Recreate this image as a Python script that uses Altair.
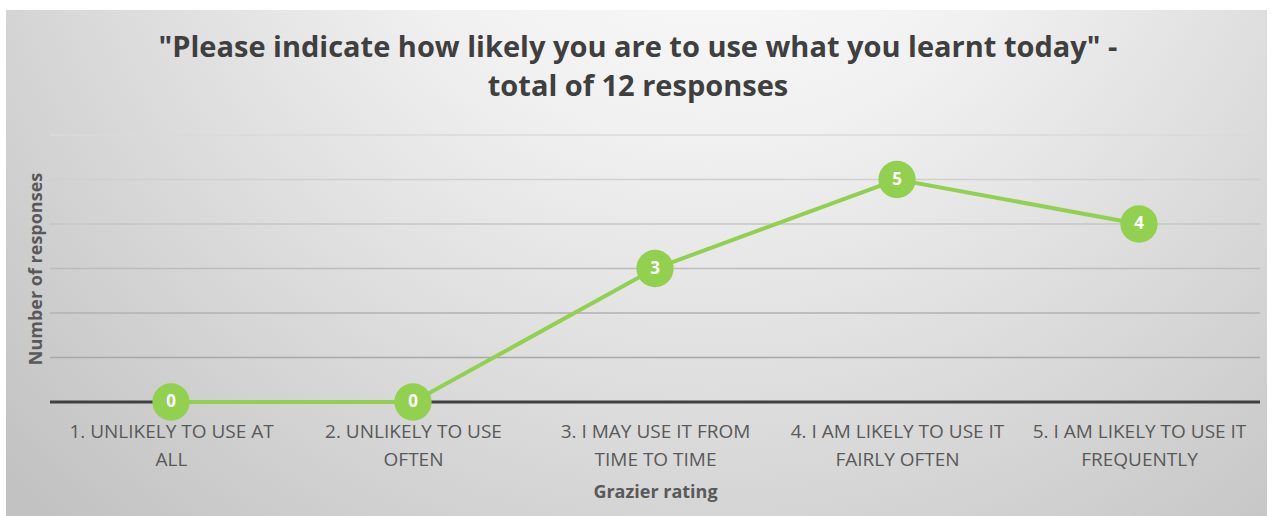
import altair as alt
import pandas as pd

categories = [
    "1. UNLIKELY TO USE AT\nALL",
    "2. UNLIKELY TO USE\nOFTEN",
    "3. I MAY USE IT FROM\nTIME TO TIME",
    "4. I AM LIKELY TO USE IT\nFAIRLY OFTEN",
    "5. I AM LIKELY TO USE IT\nFREQUENTLY",
]
responses = [0, 0, 3, 5, 4]
grid_values = [1, 2, 3, 4, 5, 6]

title_lines = ['"Please indicate how likely you are to use what you learnt today" -',
               "total of 12 responses"]
x_title = "Grazier rating"
y_title = "Number of responses"

W, H = 1210, 267
FONT = "Open Sans"
GREEN = "#92D050"
TXT = "#595959"

df = pd.DataFrame({"cat": categories, "n": responses})
grid_df = pd.DataFrame({"v": grid_values})

xenc = alt.X("cat:N", sort=categories, title=x_title,
             scale=alt.Scale(padding=0.5),
             axis=alt.Axis(labelExpr="split(datum.label, '\\n')", labelAngle=0,
                           labelFont=FONT, labelFontSize=19, labelColor=TXT,
                           labelLineHeight=28, labelPadding=20, labelLimit=400,
                           ticks=False, domain=False, grid=False,
                           titleFont=FONT, titleFontSize=18, titleFontWeight="bold",
                           titleColor=TXT, titlePadding=14, zindex=1))
yscale = alt.Scale(domain=[0, 6], nice=False)
yenc = alt.Y("n:Q", scale=yscale, title=y_title,
             axis=alt.Axis(labels=False, ticks=False, domain=False, grid=False,
                           titleFont=FONT, titleFontSize=18, titleFontWeight="bold",
                           titleColor=TXT, titlePadding=5, zindex=1))

bg = alt.Chart(pd.DataFrame({"a": [0]})).mark_rect(
    fill={"gradient": "radial", "x1": 0.56, "y1": 0.12, "r1": 0.0,
          "x2": 0.56, "y2": 0.12, "r2": 0.78,
          "stops": [{"offset": 0, "color": "#ffffff"},
                    {"offset": 0.35, "color": "#f1f1f1"},
                    {"offset": 1, "color": "#c2c2c2"}]},
    strokeWidth=0,
).encode(x=alt.value(-44), x2=alt.value(W + 7), y=alt.value(-125), y2=alt.value(H + 120))

grid = alt.Chart(grid_df).mark_rule(strokeWidth=1.5).encode(
    y=alt.Y("v:Q", scale=yscale),
    color=alt.Color("v:Q", scale=alt.Scale(domain=[1, 6], range=["#a8a8a8", "#dadada"]),
                    legend=None),
)

base_line = alt.Chart(pd.DataFrame({"v": [0]})).mark_rule(
    strokeWidth=3, color="#404040").encode(y=alt.Y("v:Q", scale=yscale))

line = alt.Chart(df).mark_line(color=GREEN, strokeWidth=4).encode(x=xenc, y=yenc)
pts = alt.Chart(df).mark_circle(color=GREEN, opacity=1, size=1390).encode(
    x=alt.X("cat:N", sort=categories), y=alt.Y("n:Q", scale=yscale))
lbl = alt.Chart(df).mark_text(color="white", font=FONT, fontSize=17, fontWeight="bold",
                              baseline="middle", align="center").encode(
    x=alt.X("cat:N", sort=categories), y=alt.Y("n:Q", scale=yscale), text="n:Q")

chart = alt.layer(bg, grid, base_line, line, pts, lbl).properties(
    width=W, height=H,
    padding={"left": 50, "top": 135, "right": 17, "bottom": 114},
    autosize=alt.AutoSizeParams(type="none"),
    title=alt.TitleParams(text=title_lines, font=FONT, fontSize=29, fontWeight="bold",
                          color="#3f3f3f", anchor="middle", dx=-17, offset=-92,
                          lineHeight=39, zindex=1),
).configure_view(strokeWidth=0).configure(background="white")

chart.save("out.html", embed_options={"renderer": "svg", "actions": False})
